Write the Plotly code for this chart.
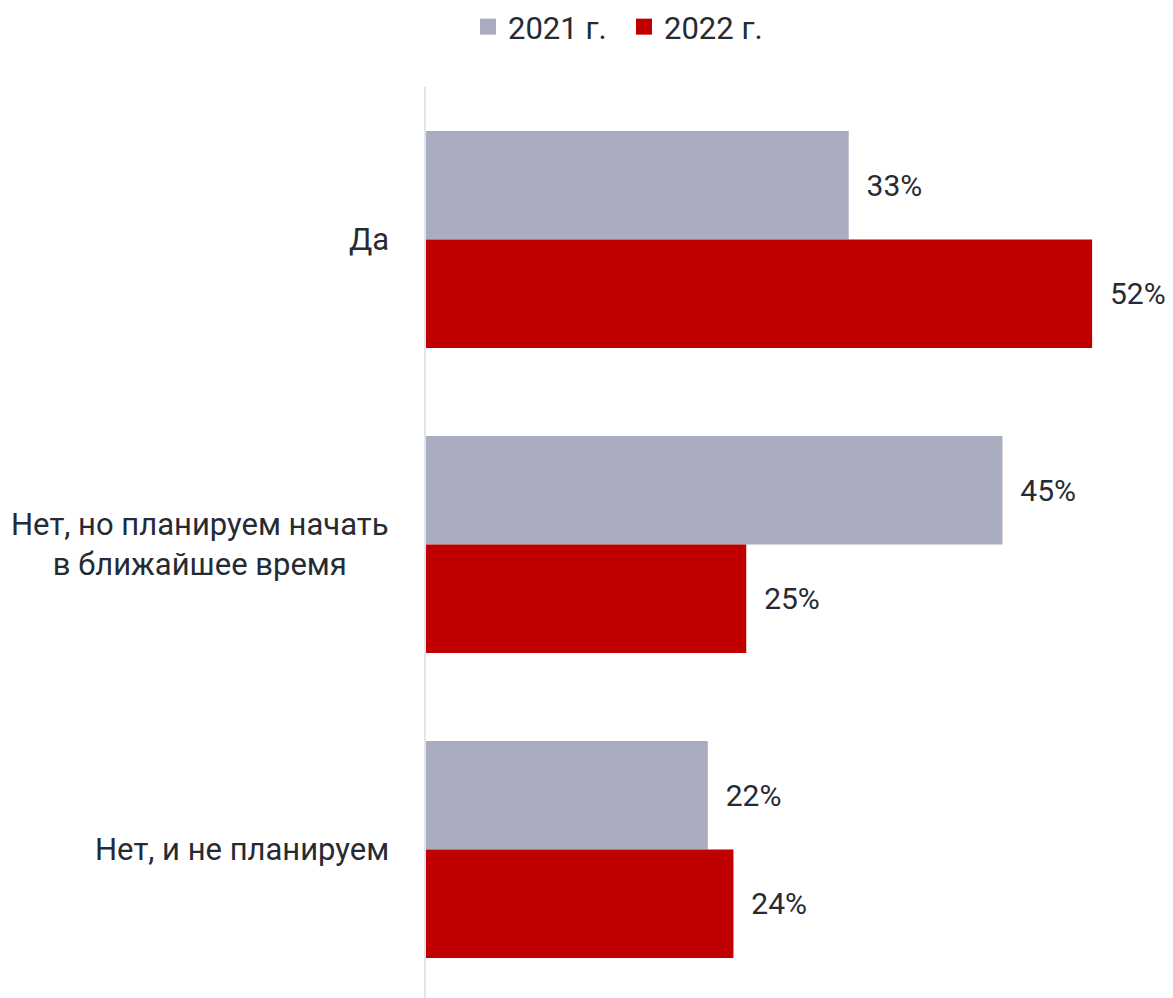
import plotly.graph_objects as go

categories = ["Да", "Нет, но планируем начать<br>в ближайшее время", "Нет, и не планируем"]
values_2021 = [33, 45, 22]
values_2022 = [52, 25, 24]
series_names = ["2021 г.", "2022 г."]
colors = ["#aaadc0", "#c00000"]
FONT = "Roboto"
TXT = "#262b33"

W, H = 1165, 990
L, T = 418, 79
PX_PER_UNIT = 12.81
GROUP_PX = 305

fig = go.Figure()
for name, vals, col in zip(series_names, [values_2021, values_2022], colors):
    fig.add_trace(go.Bar(
        y=categories, x=vals, name=name, orientation="h",
        marker=dict(color=col, line=dict(width=0)),
        text=["  " + f"{v}%" for v in vals], textposition="outside",
        textfont=dict(family=FONT, size=30, color=TXT),
        cliponaxis=False, showlegend=False,
    ))
    fig.add_trace(go.Scatter(
        x=[None], y=[None], mode="markers", name=name,
        marker=dict(symbol="square", size=21, color=col),
    ))

for c in categories:
    fig.add_annotation(
        x=0, xref="paper", xanchor="right", xshift=-35,
        y=c, yref="y", yanchor="middle",
        text=c, align="center", showarrow=False,
        font=dict(family=FONT, size=31, color=TXT),
    )

plot_w = W - L
plot_h = H - T
fig.update_layout(
    width=W, height=H,
    margin=dict(l=L, r=0, t=T, b=0, autoexpand=False),
    paper_bgcolor="white", plot_bgcolor="white",
    barmode="group", bargap=0.289, bargroupgap=0,
    font=dict(family=FONT, size=31, color=TXT),
    legend=dict(orientation="h", xref="container", yref="container",
                x=616 / W, xanchor="center", y=1 - 19 / H, yanchor="middle",
                itemsizing="trace", entrywidth=111, entrywidthmode="pixels",
                bgcolor="rgba(0,0,0,0)",
                font=dict(family=FONT, size=31, color=TXT)),
    showlegend=True,
)
fig.update_xaxes(range=[0, plot_w / PX_PER_UNIT], autorange=False, showgrid=False,
                 zeroline=False, showticklabels=False, showline=False)
fig.update_yaxes(type="category", categoryorder="array", categoryarray=categories,
                 range=[-0.5 + plot_h / GROUP_PX, -0.5], autorange=False, showgrid=False,
                 zeroline=False, showticklabels=False, showline=True,
                 linecolor="#e1e5eb", linewidth=2)

fig.write_html("out.html")
